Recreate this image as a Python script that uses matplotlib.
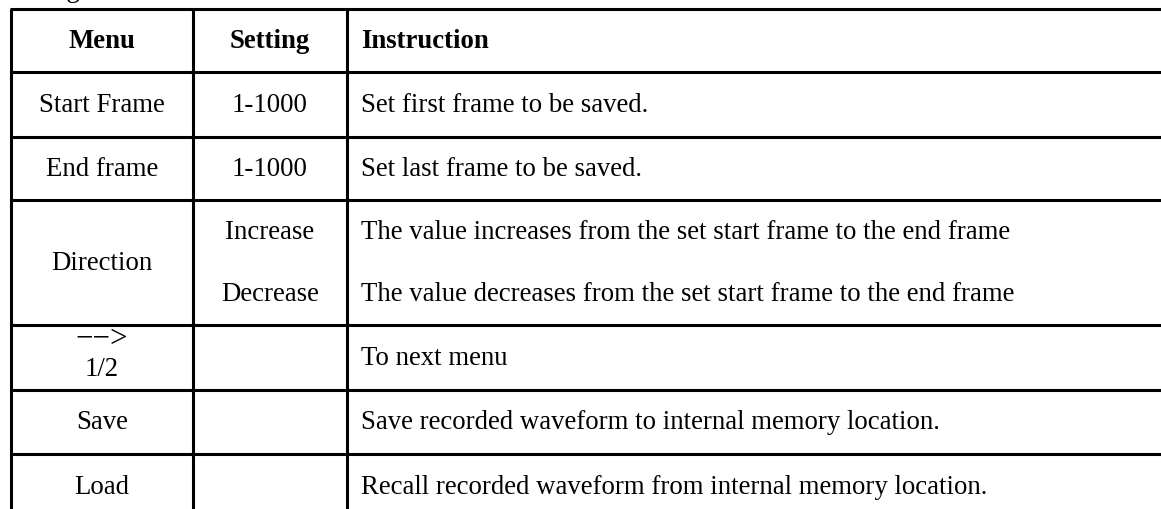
import matplotlib.pyplot as plt

W, H = 1161, 510

menus = ["Start Frame", "End frame", "Direction", "", "Save", "Load"]
settings = [["1-1000"], ["1-1000"], ["Increase", "Decrease"], [""], [""], [""]]
instructions = [
    ["Set first frame to be saved."],
    ["Set last frame to be saved."],
    ["The value increases from the set start frame to the end frame",
     "The value decreases from the set start frame to the end frame"],
    ["To next menu"],
    ["Save recorded waveform to internal memory location."],
    ["Recall recorded waveform from internal memory location."],
]
headers = ["Menu", "Setting", "Instruction"]

# grid in pixels
col_x = [11, 193, 347]
row_y = [10, 73, 138, 201, 326, 391, 455, 520]

FONT = "Liberation Serif"
FS = 19.3
LW = 2.2

fig = plt.figure(figsize=(W / 100, H / 100), dpi=100)
ax = fig.add_axes([0, 0, 1, 1])
ax.set_xlim(0, W)
ax.set_ylim(H, 0)
ax.axis("off")

# caption above the table, only its descender shows
ax.text(4, -3.5, "Setting:", fontsize=FS, family=FONT, ha="left", va="baseline")

# borders
for y in row_y[:-1]:
    ax.plot([col_x[0] - 1, W + 5], [y, y], color="black", lw=LW, solid_capstyle="butt")
for x in col_x:
    ax.plot([x, x], [row_y[0], H + 5], color="black", lw=LW, solid_capstyle="butt")

# header
mid1 = (col_x[0] + col_x[1]) / 2
mid2 = (col_x[1] + col_x[2]) / 2
ycen = (row_y[0] + row_y[1]) / 2
ax.text(mid1, ycen, headers[0], fontsize=FS, family=FONT, weight="bold", ha="center", va="center")
ax.text(mid2, ycen, headers[1], fontsize=FS, family=FONT, weight="bold", ha="center", va="center")
ax.text(col_x[2] + 14, ycen, headers[2], fontsize=FS, family=FONT, weight="bold", ha="left", va="center")

for i, (m, s, ins) in enumerate(zip(menus, settings, instructions)):
    top, bot = row_y[i + 1], row_y[i + 2]
    if i == len(menus) - 1:
        bot = top + 65
    yc = (top + bot) / 2
    if m:
        ax.text(mid1, yc, m, fontsize=FS, family=FONT, ha="center", va="center")
    else:
        # next-page arrow
        ax.text(mid1, yc - 19, "−−>", fontsize=FS + 3, family=FONT, ha="center", va="center")
        ax.text(mid1, yc + 11, "1/2", fontsize=FS, family=FONT, ha="center", va="center")
    n = len(s)
    step = (bot - top) / n
    for k in range(n):
        yk = top + step * (k + 0.5)
        ax.text(mid2, yk, s[k], fontsize=FS, family=FONT, ha="center", va="center")
        ax.text(col_x[2] + 14, yk, ins[k], fontsize=FS, family=FONT, ha="left", va="center")

fig.savefig("out.png", dpi=100)
